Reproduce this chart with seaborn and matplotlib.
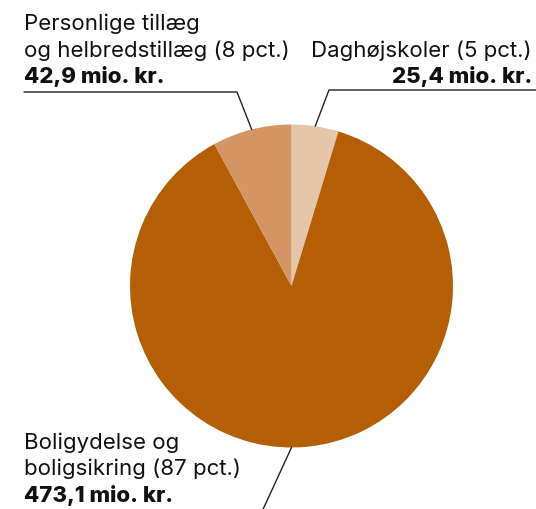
import matplotlib
matplotlib.use("Agg")
import matplotlib.pyplot as plt
import seaborn as sns
import numpy as np

# data
categories = ["Daghøjskoler", "Boligydelse og boligsikring", "Personlige tillæg og helbredstillæg"]
values = [25.4, 473.1, 42.9]
pct_labels = ["5 pct.", "87 pct.", "8 pct."]
colors = ["#E6C6A8", "#B45F06", "#D29563"]

sns.set_theme(style="white")
plt.rcParams["font.family"] = ["Inter", "DejaVu Sans"]

W, H = 536, 510
fig = plt.figure(figsize=(W / 100, H / 100), dpi=100)
ax = fig.add_axes([0, 0, 1, 1])

cx, cy, r = 291.5, H - 287, 161.5
wedges, _ = ax.pie(values, colors=colors, startangle=90, counterclock=False,
                   center=(cx, cy), radius=r, frame=True,
                   wedgeprops=dict(linewidth=0))
ax.set_xlim(0, W)
ax.set_ylim(0, H)
ax.set_aspect("equal")
ax.axis("off")


def fmt(v):
    return f"{v:.1f}".replace(".", ",") + " mio. kr."


def edge_point(w, ang=None):
    if ang is None:
        ang = (w.theta1 + w.theta2) / 2
    a = np.deg2rad(ang)
    return cx + r * np.cos(a), cy + r * np.sin(a)


fs = 16
tc = "#111111"
lc = "#222222"
txt = dict(fontsize=fs, va="baseline", color=tc)

# Personlige tillaeg (left top)
px, py = edge_point(wedges[2])
ax.plot([24, 237, px], [H - 93, H - 93, py], color=lc, lw=1)
ax.text(24, H - 30, "Personlige tillæg", ha="left", **txt)
ax.text(24, H - 57, f"og helbredstillæg ({pct_labels[2]})", ha="left", **txt)
ax.text(24, H - 83, fmt(values[2]), fontweight="heavy", ha="left", **txt)

# Daghoejskoler (right top)
dx, dy = edge_point(wedges[0])
ax.plot([W, 329, dx], [H - 91, H - 91, dy], color=lc, lw=1)
ax.text(532, H - 57, f"{categories[0]} ({pct_labels[0]})", ha="right", **txt)
ax.text(532, H - 83, fmt(values[0]), fontweight="heavy", ha="right", **txt)

# Boligydelse (bottom)
bx, by = edge_point(wedges[1], -90)
ax.plot([bx, bx - 29 * 1.2], [by, by - 63 * 1.2], color=lc, lw=1)
ax.text(24, H - 449, "Boligydelse og", ha="left", **txt)
ax.text(24, H - 475, f"boligsikring ({pct_labels[1]})", ha="left", **txt)
ax.text(24, H - 502, fmt(values[1]), fontweight="heavy", ha="left", **txt)

fig.savefig("out.png", dpi=100)
